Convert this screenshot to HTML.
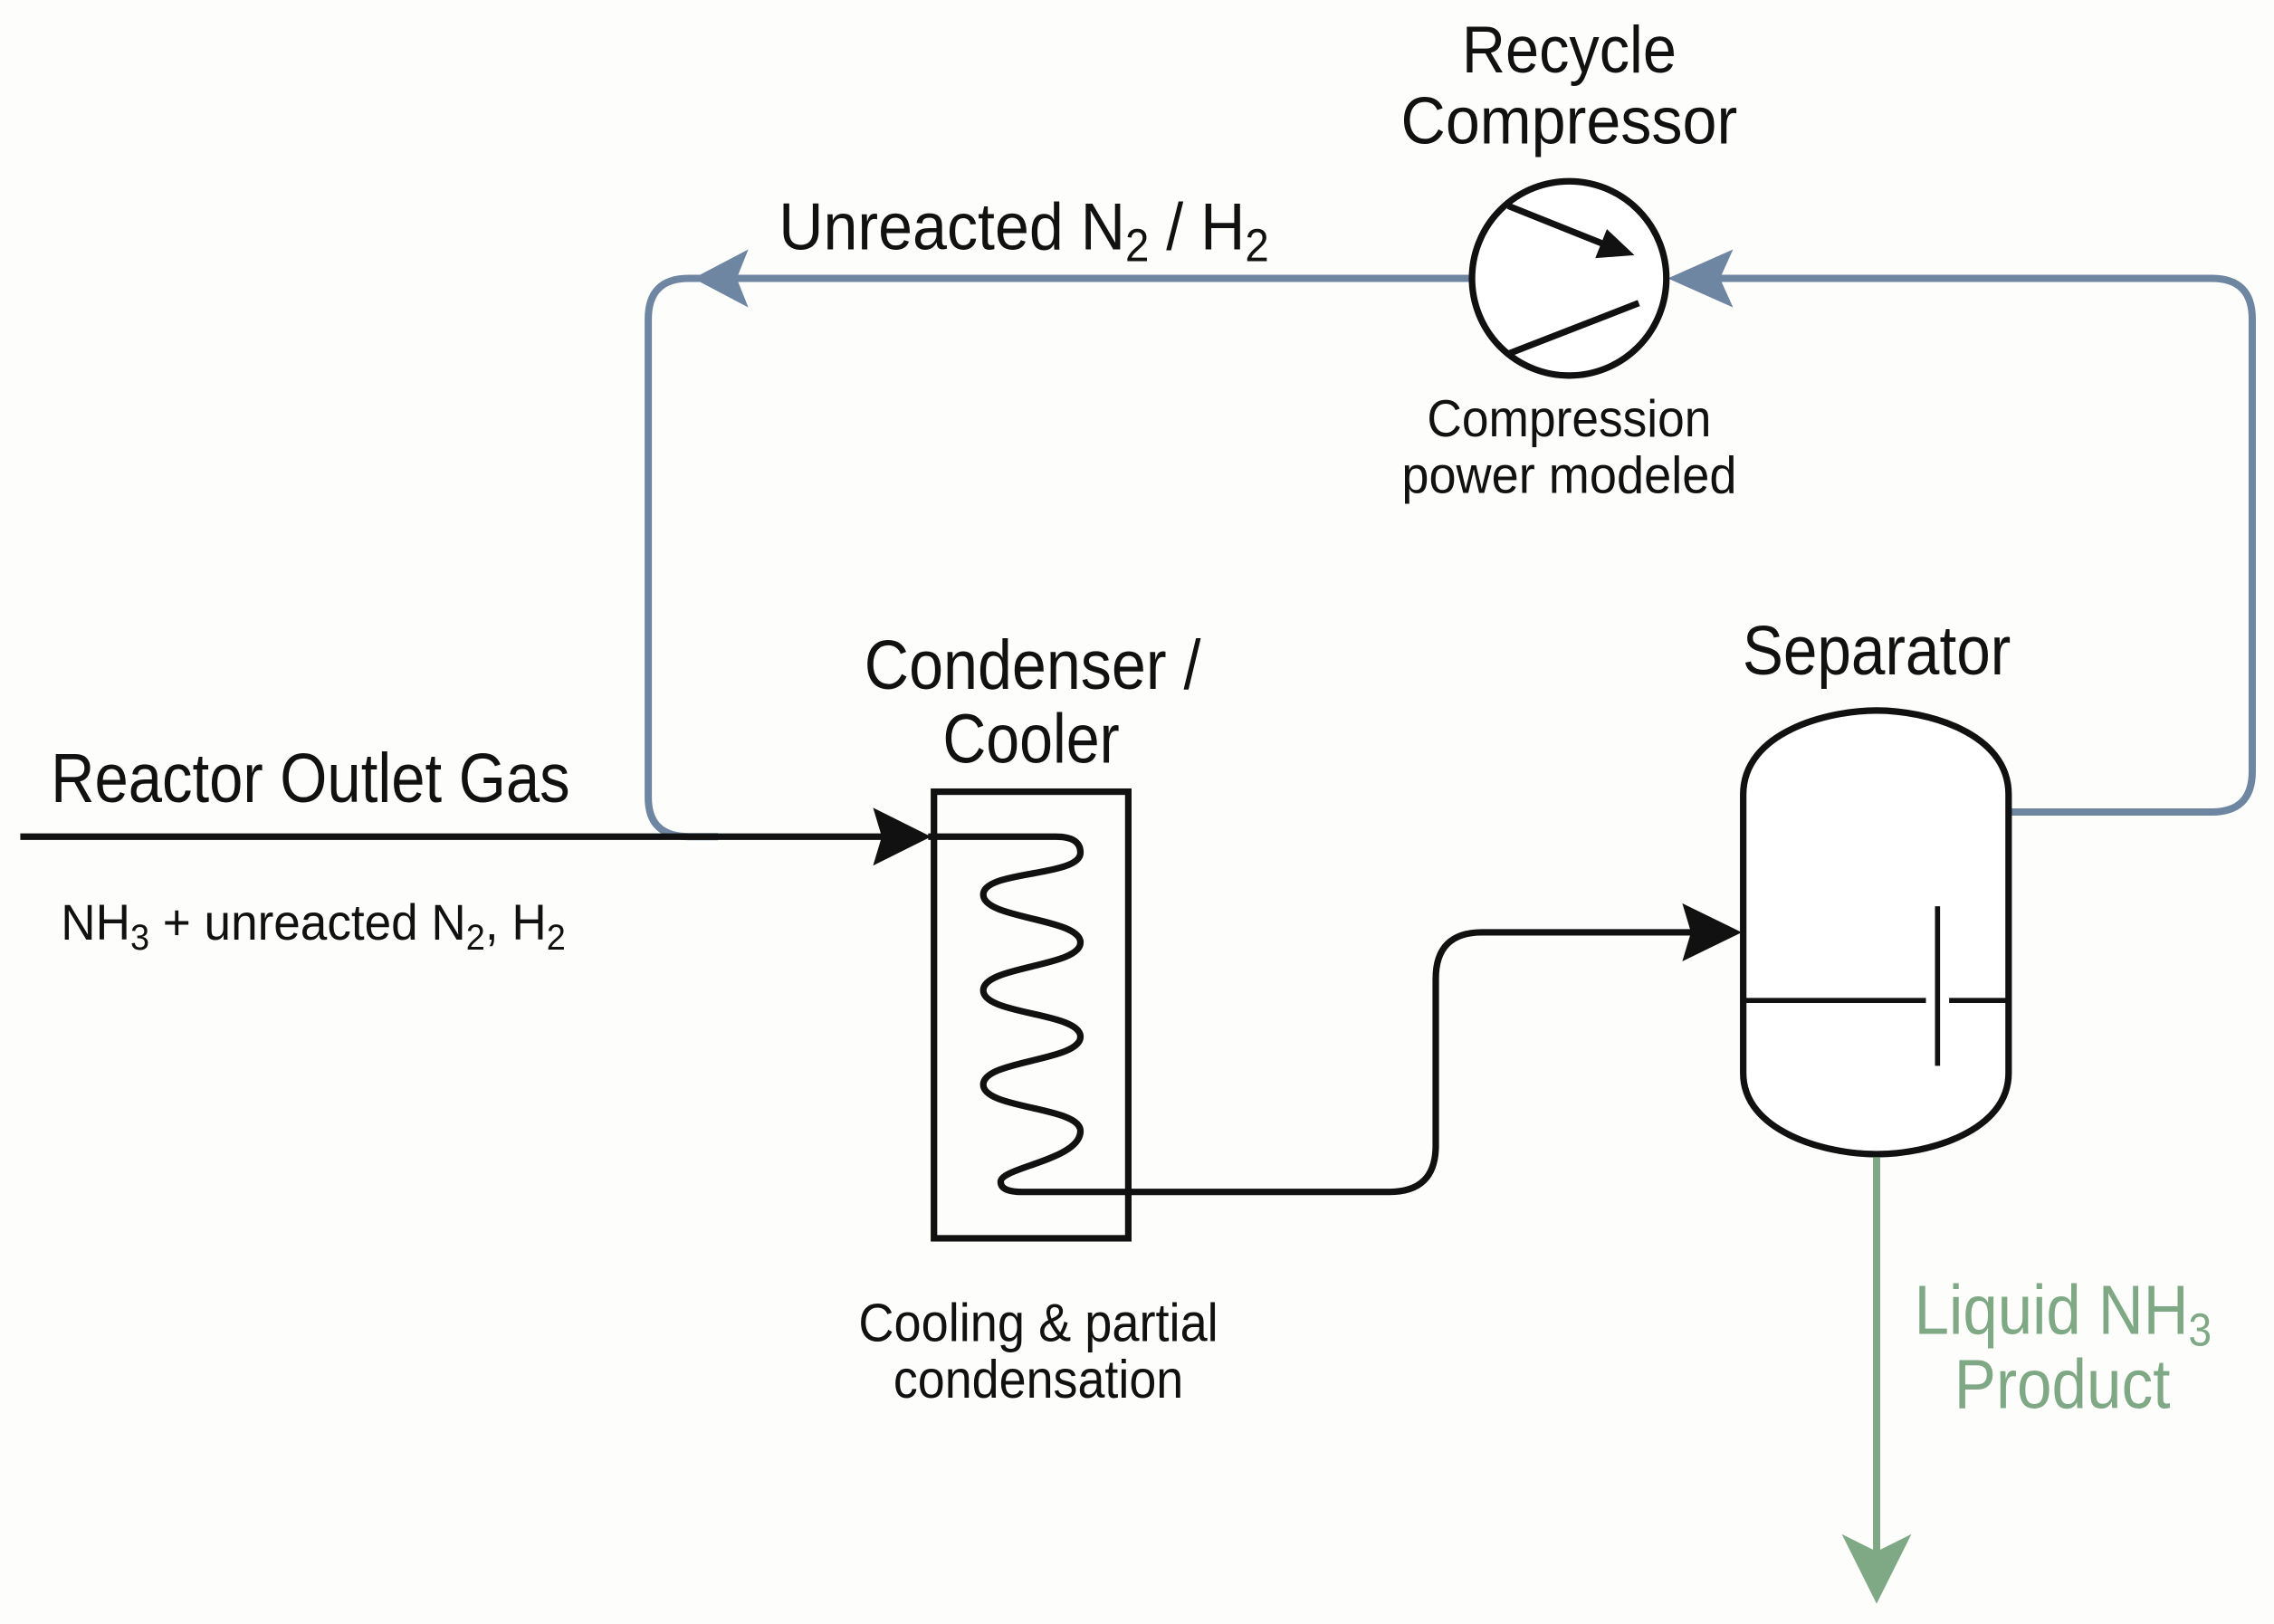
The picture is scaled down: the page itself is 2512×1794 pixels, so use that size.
<!DOCTYPE html>
<html><head><meta charset="utf-8"><style>
html,body{margin:0;padding:0;background:#fdfdfc;}
svg{display:block;}
text{font-family:"Liberation Sans Narrow","Liberation Sans",sans-serif;fill:#111;}
</style></head><body>
<svg width="2512" height="1794" viewBox="0 0 1568 1120" preserveAspectRatio="none" xmlns="http://www.w3.org/2000/svg">
<rect width="1568" height="1120" fill="#fdfdfc"/>
<!-- recycle blue loop -->
<g fill="none" stroke="#6f86a3" stroke-width="5">
<path d="M1014,192 H475 Q447,192 447,220 V550 Q447,577 475,577 H495"/>
<path d="M1385,560 H1525 Q1553,560 1553,532 V220 Q1553,192 1525,192 H1185"/>
</g>
<polygon points="478,192 516,172 508,192 516,212" fill="#6f86a3"/>
<polygon points="1150,192 1195,172 1186,192 1195,212" fill="#6f86a3"/>
<!-- compressor -->
<ellipse cx="1082" cy="192" rx="67" ry="67" fill="#fff" stroke="#111" stroke-width="4.5"/>
<line x1="1040" y1="142" x2="1110" y2="170" stroke="#111" stroke-width="4.5"/>
<polygon points="1127,176 1100,178 1108,158" fill="#111"/>
<line x1="1040" y1="244" x2="1130" y2="209" stroke="#111" stroke-width="4.5"/>
<!-- inlet -->
<line x1="14" y1="577" x2="610" y2="577" stroke="#111" stroke-width="4.5"/>
<polygon points="642,577 602,557 608,577 602,597" fill="#111"/>
<!-- condenser box -->
<rect x="644" y="546" width="134" height="308" fill="none" stroke="#111" stroke-width="4.5"/>
<path d="M640,577 H728 Q745,577 745,588 C745,605 678,600 678,617 C678,634 745,633 745,650 C745,667 678,666 678,683 C678,700 745,698 745,715 C745,732 678,731 678,748 C678,765 745,763 745,780 C745,800 690,805 690,815 Q690,822 705,822 H958 Q990,822 990,790 V675 Q990,643 1022,643 H1170" fill="none" stroke="#111" stroke-width="4.5"/>
<polygon points="1201,643 1160,623 1166,643 1160,663" fill="#111"/>
<!-- separator -->
<path d="M1202,548 C1202,505 1260,490 1294,490 C1328,490 1385,505 1385,548 V740 C1385,780 1330,796 1294,796 C1258,796 1202,780 1202,740 Z" fill="#fff" stroke="#111" stroke-width="4.5"/>
<line x1="1204" y1="690" x2="1328" y2="690" stroke="#111" stroke-width="3.5"/>
<line x1="1344" y1="690" x2="1383" y2="690" stroke="#111" stroke-width="3.5"/>
<line x1="1336" y1="625" x2="1336" y2="735" stroke="#111" stroke-width="3.5"/>
<!-- product -->
<line x1="1294" y1="798" x2="1294" y2="1070" stroke="#7fa884" stroke-width="5"/>
<polygon points="1294,1106 1270,1058 1294,1070 1318,1058" fill="#7fa884"/>
<!-- labels -->
<g text-anchor="middle" lengthAdjust="spacingAndGlyphs">
<text x="1082" y="50" font-size="46" textLength="148" lengthAdjust="spacingAndGlyphs">Recycle</text>
<text x="1082" y="99" font-size="46" textLength="232" lengthAdjust="spacingAndGlyphs">Compressor</text>
<text x="1082" y="301" font-size="36" textLength="196" lengthAdjust="spacingAndGlyphs">Compression</text>
<text x="1082" y="340" font-size="36" textLength="231" lengthAdjust="spacingAndGlyphs">power modeled</text>
<text x="712" y="475" font-size="48" textLength="232" lengthAdjust="spacingAndGlyphs">Condenser /</text>
<text x="711" y="526" font-size="48" textLength="122" lengthAdjust="spacingAndGlyphs">Cooler</text>
<text x="1294" y="465" font-size="48" textLength="185" lengthAdjust="spacingAndGlyphs">Separator</text>
<text x="716" y="925" font-size="37" textLength="248" lengthAdjust="spacingAndGlyphs">Cooling &amp; partial</text>
<text x="716" y="964" font-size="37" textLength="200" lengthAdjust="spacingAndGlyphs">condensation</text>
<text x="1422" y="971" font-size="48" style="fill:#7fa884" textLength="149" lengthAdjust="spacingAndGlyphs">Product</text>
</g>
<text x="1320" y="920" font-size="48" style="fill:#7fa884" textLength="205" lengthAdjust="spacingAndGlyphs">Liquid NH<tspan font-size="32" dy="8">3</tspan></text>
<text x="537" y="172" font-size="46" textLength="338" lengthAdjust="spacingAndGlyphs">Unreacted N<tspan font-size="32" dy="8">2</tspan><tspan dy="-8"> / H</tspan><tspan font-size="32" dy="8">2</tspan></text>
<text x="35" y="553" font-size="48" textLength="358" lengthAdjust="spacingAndGlyphs">Reactor Outlet Gas</text>
<text x="42" y="648" font-size="35" textLength="348" lengthAdjust="spacingAndGlyphs">NH<tspan font-size="25" dy="7">3</tspan><tspan dy="-7"> + unreacted N</tspan><tspan font-size="25" dy="7">2</tspan><tspan dy="-7">, H</tspan><tspan font-size="25" dy="7">2</tspan></text>
</svg>
</body></html>
